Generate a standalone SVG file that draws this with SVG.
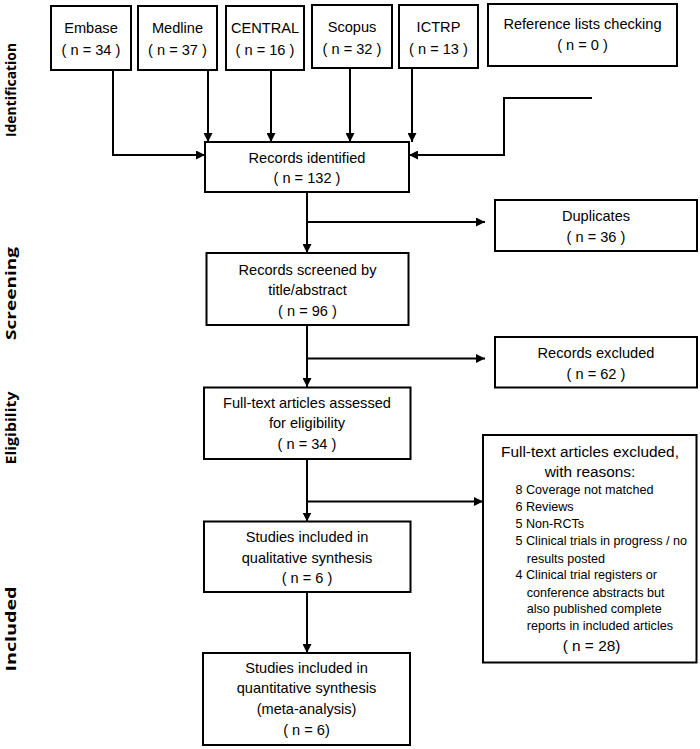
<svg xmlns="http://www.w3.org/2000/svg" width="700" height="749" viewBox="0 0 700 749">
<style>
.box{fill:#fff;stroke:#000;stroke-width:2}
.t{font-family:"Liberation Sans",Arial,sans-serif;font-size:14.6px;fill:#000;text-anchor:middle}
.h{font-family:"Liberation Sans",Arial,sans-serif;font-size:15.4px;fill:#000;text-anchor:middle}
.s{font-family:"Liberation Sans",Arial,sans-serif;font-size:12.6px;fill:#000}
.lab{font-family:"Open Sans","Liberation Sans",sans-serif;font-size:15px;font-weight:bold;fill:#000;text-anchor:middle}
.c{fill:none;stroke:#000;stroke-width:2}
</style>
<defs>
<marker id="ah" viewBox="0 0 10 10" refX="10" refY="5" markerWidth="9" markerHeight="9" markerUnits="userSpaceOnUse" orient="auto">
<path d="M0,0 L10,5 L0,10 z" fill="#000"/>
</marker>
</defs>
<rect width="700" height="749" fill="#fff"/>
<g id="stage-labels">
<text class="lab" transform="translate(15.5,90) rotate(-90)" textLength="94" lengthAdjust="spacingAndGlyphs">Identification</text>
<text class="lab" transform="translate(15.5,293.5) rotate(-90)" textLength="93" lengthAdjust="spacingAndGlyphs">Screening</text>
<text class="lab" transform="translate(15.5,428) rotate(-90)" textLength="73" lengthAdjust="spacingAndGlyphs">Eligibility</text>
<text class="lab" transform="translate(15.5,629) rotate(-90)" textLength="85" lengthAdjust="spacingAndGlyphs">Included</text>
</g>
<g id="connectors">
<path class="c" d="M113,70 V155 H205" marker-end="url(#ah)"/>
<path class="c" d="M208,70 V142" marker-end="url(#ah)"/>
<path class="c" d="M271,70 V142" marker-end="url(#ah)"/>
<path class="c" d="M350,68 V142" marker-end="url(#ah)"/>
<path class="c" d="M412,68 V142" marker-end="url(#ah)"/>
<path class="c" d="M592,98 H504 V155 H409" marker-end="url(#ah)"/>
<path class="c" d="M307,192 V253" marker-end="url(#ah)"/>
<path class="c" d="M307,222 H485" marker-end="url(#ah)"/>
<path class="c" d="M307,325 V387" marker-end="url(#ah)"/>
<path class="c" d="M307,358.5 H485" marker-end="url(#ah)"/>
<path class="c" d="M307,459 V521.5" marker-end="url(#ah)"/>
<path class="c" d="M307,501.5 H483" marker-end="url(#ah)"/>
<path class="c" d="M307,592 V653" marker-end="url(#ah)"/>
</g>
<g id="embase">
<rect class="box" x="51" y="6" width="80" height="64"/>
<text class="t" x="91" y="33">Embase</text>
<text class="t" x="91" y="55">( n = 34 )</text>
</g>
<g id="medline">
<rect class="box" x="138" y="6" width="79" height="64"/>
<text class="t" x="177.5" y="33">Medline</text>
<text class="t" x="177.5" y="55">( n = 37 )</text>
</g>
<g id="central">
<rect class="box" x="226" y="6" width="78" height="64"/>
<text class="t" x="265" y="33">CENTRAL</text>
<text class="t" x="265" y="55">( n = 16 )</text>
</g>
<g id="scopus">
<rect class="box" x="312" y="5" width="80" height="63"/>
<text class="t" x="352" y="32">Scopus</text>
<text class="t" x="352" y="54">( n = 32 )</text>
</g>
<g id="ictrp">
<rect class="box" x="399" y="5" width="79" height="63"/>
<text class="t" x="438.5" y="32">ICTRP</text>
<text class="t" x="438.5" y="54">( n = 13 )</text>
</g>
<g id="reference-lists">
<rect class="box" x="488" y="4" width="189" height="62"/>
<text class="t" x="582.5" y="29">Reference lists checking</text>
<text class="t" x="582.5" y="50">( n = 0 )</text>
</g>
<g id="records-identified">
<rect class="box" x="205" y="142" width="204" height="50"/>
<text class="t" x="307" y="163">Records identified</text>
<text class="t" x="307" y="183">( n = 132 )</text>
</g>
<g id="duplicates">
<rect class="box" x="495" y="200" width="202" height="51"/>
<text class="t" x="596" y="221">Duplicates</text>
<text class="t" x="596" y="242">( n = 36 )</text>
</g>
<g id="records-screened">
<rect class="box" x="206.5" y="253" width="202" height="72"/>
<text class="t" x="307.5" y="275">Records screened by</text>
<text class="t" x="307.5" y="295">title/abstract</text>
<text class="t" x="307.5" y="316">( n = 96 )</text>
</g>
<g id="records-excluded">
<rect class="box" x="495" y="337" width="202" height="50.5"/>
<text class="t" x="596" y="357.5">Records excluded</text>
<text class="t" x="596" y="378.5">( n = 62 )</text>
</g>
<g id="full-text-assessed">
<rect class="box" x="204" y="387.5" width="206.5" height="71.5"/>
<text class="t" x="307" y="408">Full-text articles assessed</text>
<text class="t" x="307" y="428">for eligibility</text>
<text class="t" x="307" y="449">( n = 34 )</text>
</g>
<g id="full-text-excluded">
<rect class="box" x="483" y="435" width="213.5" height="227.5"/>
<text class="h" x="590" y="457.3">Full-text articles excluded,</text>
<text class="h" x="590" y="476.7">with reasons:</text>
<text class="s" x="515.5" y="494">8 Coverage not matched</text>
<text class="s" x="515.5" y="511">6 Reviews</text>
<text class="s" x="515.5" y="528.3">5 Non-RCTs</text>
<text class="s" x="515.5" y="545">5 Clinical trials in progress / no</text>
<text class="s" x="526.7" y="562.7">results posted</text>
<text class="s" x="515.5" y="579.3">4 Clinical trial registers or</text>
<text class="s" x="526.7" y="596.7">conference abstracts but</text>
<text class="s" x="526.7" y="613.3">also published complete</text>
<text class="s" x="526.7" y="630">reports in included articles</text>
<text class="h" x="591.5" y="650.7">( n = 28)</text>
</g>
<g id="qualitative">
<rect class="box" x="204" y="521.5" width="206.5" height="70.5"/>
<text class="t" x="307" y="542">Studies included in</text>
<text class="t" x="307" y="563">qualitative synthesis</text>
<text class="t" x="307" y="583.3">( n = 6 )</text>
</g>
<g id="quantitative">
<rect class="box" x="203" y="653" width="207" height="92"/>
<text class="t" x="306.5" y="673.3">Studies included in</text>
<text class="t" x="306.5" y="693.3">quantitative synthesis</text>
<text class="t" x="306.5" y="714">(meta-analysis)</text>
<text class="t" x="306.5" y="735">( n = 6)</text>
</g>
</svg>
